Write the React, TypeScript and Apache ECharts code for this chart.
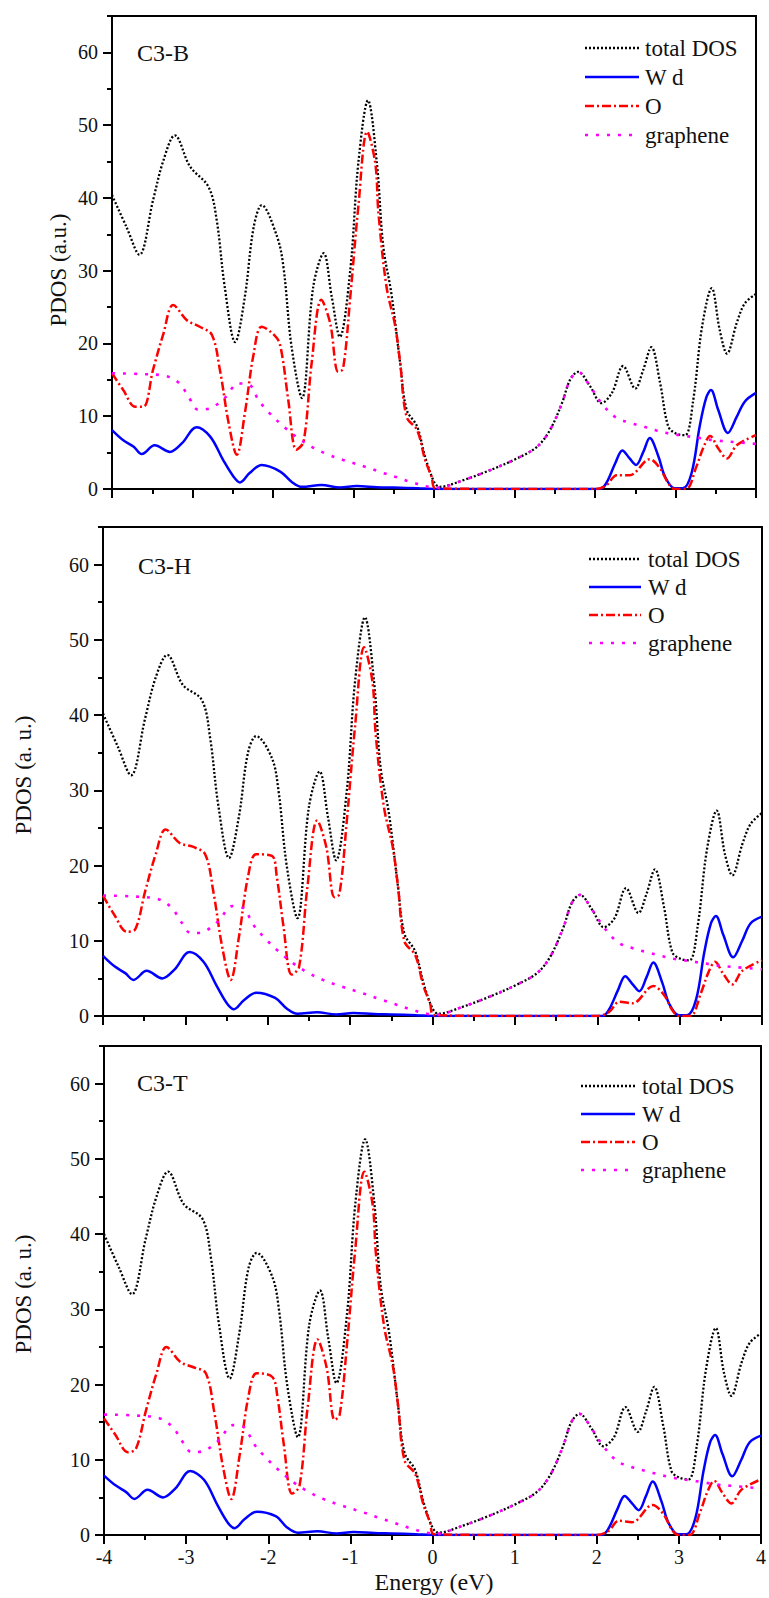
import React, { useEffect, useRef } from 'react';
import * as echarts from 'echarts';

// ---------- data ----------
const panelNames = ['C3-B', 'C3-H', 'C3-T'];
const yAxisNames = ['PDOS (a.u.)', 'PDOS (a. u.)', 'PDOS (a. u.)'];
const xAxisName = 'Energy (eV)';
const legendNames = ['total DOS', 'W d', 'O', 'graphene'];
const yMajorTicks = [0, 10, 20, 30, 40, 50, 60];
const yMinorTicks = [5, 15, 25, 35, 45, 55, 65];

// total DOS
const totalE = [-4, -3.82, -3.66, -3.49, -3.36, -3.22, -3.03, -2.8, -2.7, -2.6, -2.47, -2.35, -2.24, -2.14, -1.95, -1.87, -1.77, -1.64, -1.5, -1.37, -1.27, -1.17, -1.04, -0.94, -0.82, -0.71, -0.63, -0.53, -0.42, -0.34, -0.21, -0.11, 0, 0.07, 0.36, 0.7, 1.03, 1.28, 1.44, 1.59, 1.69, 1.79, 1.94, 2.08, 2.21, 2.35, 2.5, 2.6, 2.7, 2.81, 2.91, 3.01, 3.12, 3.22, 3.33, 3.45, 3.55, 3.64, 3.76, 3.86, 4];
const totalB = [40.4, 36.0, 32.2, 39.7, 45.2, 48.6, 44.3, 41.5, 37.0, 27.8, 20.2, 26.4, 36.0, 39.0, 34.7, 30.5, 19.6, 12.5, 27.8, 32.4, 26.4, 20.9, 30.1, 44.8, 53.4, 44.8, 33.3, 26.9, 17.3, 10.9, 8.6, 4.4, 1.0, 0.3, 1.2, 2.6, 4.2, 5.8, 8.1, 11.8, 15.0, 16.1, 14.1, 11.8, 13.2, 16.9, 13.8, 16.4, 19.5, 14.5, 8.6, 7.6, 7.4, 12.2, 22.3, 27.6, 21.8, 18.6, 22.8, 25.5, 26.8];
const totalH = [40.2, 35.8, 32.0, 39.5, 45.0, 48.0, 44.0, 42.0, 37.0, 28.0, 21.0, 26.5, 35.0, 37.2, 34.3, 30.0, 20.0, 13.0, 27.8, 32.5, 26.5, 20.7, 30.0, 44.5, 53.0, 44.5, 33.0, 27.0, 17.3, 10.9, 8.6, 4.4, 1.0, 0.3, 1.2, 2.6, 4.2, 5.8, 8.1, 11.8, 15.0, 16.1, 14.1, 11.8, 13.0, 17.0, 13.7, 16.3, 19.5, 14.5, 8.5, 7.6, 7.4, 12.0, 22.0, 27.3, 21.5, 18.7, 22.8, 25.5, 27.0];
const totalT = [40.0, 35.6, 32.0, 39.5, 45.0, 48.3, 44.0, 42.0, 37.0, 28.0, 20.8, 27.0, 35.5, 37.5, 34.3, 30.0, 20.0, 13.0, 28.0, 32.5, 26.2, 20.2, 29.5, 44.0, 52.6, 44.3, 33.0, 27.0, 17.3, 10.9, 8.6, 4.4, 1.0, 0.3, 1.2, 2.6, 4.2, 5.8, 8.1, 11.8, 15.0, 16.1, 14.1, 11.8, 13.0, 17.0, 13.7, 16.4, 19.7, 14.5, 8.5, 7.6, 7.4, 12.0, 22.0, 27.5, 21.5, 18.5, 22.8, 25.5, 26.8];

// W d
const wdE = [-4, -3.86, -3.73, -3.63, -3.47, -3.28, -3.13, -2.95, -2.78, -2.62, -2.49, -2.41, -2.29, -2.14, -1.91, -1.77, -1.64, -1.4, -1.17, -0.96, -0.71, -0.5, -0.2, 0, 1.0, 2.06, 2.14, 2.25, 2.34, 2.43, 2.51, 2.6, 2.68, 2.79, 2.87, 2.99, 3.09, 3.2, 3.3, 3.38, 3.44, 3.53, 3.65, 3.76, 3.86, 4];
const wdB = [8.1, 6.7, 5.8, 4.8, 6.0, 5.1, 6.3, 8.5, 7.2, 4.0, 1.7, 0.9, 2.2, 3.3, 2.4, 1.0, 0.3, 0.55, 0.2, 0.4, 0.25, 0.2, 0.1, 0.0, 0.0, 0.0, 0.8, 3.5, 5.3, 4.2, 3.3, 5.1, 7.0, 4.4, 1.7, 0.1, 0.1, 2.2, 8.6, 12.5, 13.6, 10.9, 7.7, 9.9, 12.0, 13.2];
const wdH = [8.0, 6.6, 5.7, 4.8, 6.0, 5.0, 6.2, 8.5, 7.2, 4.0, 1.6, 0.9, 2.1, 3.1, 2.4, 1.0, 0.3, 0.5, 0.2, 0.4, 0.25, 0.2, 0.1, 0.0, 0.0, 0.0, 0.8, 3.4, 5.3, 4.2, 3.3, 5.2, 7.1, 4.4, 1.7, 0.1, 0.1, 2.2, 8.5, 12.3, 13.3, 10.8, 7.8, 10.0, 12.3, 13.2];
const wdT = [7.9, 6.6, 5.7, 4.8, 6.0, 5.0, 6.2, 8.5, 7.3, 4.0, 1.6, 0.9, 2.1, 3.1, 2.5, 1.0, 0.3, 0.5, 0.2, 0.4, 0.25, 0.2, 0.1, 0.0, 0.0, 0.0, 0.8, 3.4, 5.2, 4.2, 3.3, 5.2, 7.1, 4.4, 1.7, 0.1, 0.1, 2.2, 8.5, 12.3, 13.3, 10.8, 7.8, 10.0, 12.3, 13.2];

// O
const oE = [-4, -3.86, -3.71, -3.61, -3.49, -3.36, -3.24, -3.07, -2.91, -2.76, -2.66, -2.55, -2.45, -2.35, -2.24, -2.14, -1.95, -1.89, -1.81, -1.71, -1.62, -1.52, -1.4, -1.29, -1.19, -1.13, -1.04, -0.94, -0.83, -0.73, -0.69, -0.59, -0.48, -0.42, -0.34, -0.21, -0.11, -0.03, 0.02, 1.0, 2.0, 2.14, 2.27, 2.43, 2.68, 2.81, 2.91, 2.99, 3.13, 3.26, 3.35, 3.43, 3.53, 3.64, 3.76, 4];
const oB = [15.9, 13.6, 11.3, 11.3, 16.4, 21.4, 25.3, 23.2, 22.3, 21.2, 16.4, 9.0, 4.7, 10.4, 18.6, 22.3, 20.7, 18.6, 12.2, 5.4, 6.5, 17.3, 26.0, 22.8, 16.1, 16.5, 26.4, 38.8, 49.1, 44.8, 37.9, 27.8, 22.3, 17.3, 9.9, 8.1, 4.0, 1.7, 0.1, 0.0, 0.0, 0.5, 1.9, 1.9, 4.1, 2.8, 0.8, 0.0, 0.0, 3.1, 5.8, 7.3, 5.6, 4.2, 6.0, 7.4];
const oH = [16.0, 13.4, 11.2, 11.5, 16.5, 21.5, 24.8, 23.0, 22.5, 21.5, 16.5, 9.0, 4.8, 10.5, 18.5, 21.5, 21.3, 18.5, 12.0, 5.5, 6.5, 17.0, 26.0, 22.5, 15.8, 16.2, 26.0, 38.5, 49.0, 44.5, 37.5, 27.8, 22.3, 17.3, 9.9, 8.1, 4.0, 1.7, 0.1, 0.0, 0.0, 0.5, 1.9, 1.7, 4.0, 2.8, 0.8, 0.0, 0.0, 3.1, 5.8, 7.2, 5.6, 4.2, 6.0, 7.4];
const oT = [15.5, 13.3, 11.0, 11.5, 16.5, 21.5, 25.0, 23.0, 22.3, 21.5, 16.5, 9.0, 4.8, 10.5, 18.5, 21.5, 21.0, 18.5, 12.0, 5.5, 6.5, 17.0, 26.0, 22.3, 15.3, 16.0, 25.5, 38.0, 48.3, 44.0, 37.5, 27.8, 22.3, 17.3, 9.9, 8.1, 4.0, 1.7, 0.1, 0.0, 0.0, 0.5, 1.9, 1.7, 4.0, 2.8, 0.8, 0.0, 0.0, 3.1, 5.8, 7.2, 5.6, 4.2, 6.0, 7.4];

// graphene
const grE = [-4, -3.65, -3.32, -3.16, -3.05, -2.93, -2.78, -2.6, -2.43, -2.29, -2.18, -2.04, -1.87, -1.69, -1.52, -1.33, -1.13, -0.84, -0.63, -0.46, -0.3, -0.07, 0.05, 0.36, 0.7, 1.03, 1.28, 1.44, 1.59, 1.69, 1.79, 1.94, 2.08, 2.25, 2.43, 2.6, 2.77, 2.93, 3.12, 3.3, 3.47, 3.68, 4];
const grB = [15.9, 15.8, 15.5, 14.5, 12.7, 10.9, 11.1, 12.5, 14.5, 14.3, 12.2, 10.4, 8.6, 7.0, 5.8, 4.8, 4.0, 3.0, 2.2, 1.6, 1.0, 0.3, 0.2, 1.2, 2.6, 4.2, 5.8, 8.1, 11.8, 15.0, 16.1, 14.1, 11.8, 9.9, 9.1, 8.6, 8.0, 7.6, 7.3, 7.0, 6.7, 6.5, 6.2];
const grH = [16.0, 15.9, 15.5, 14.3, 12.5, 11.0, 11.2, 12.6, 14.6, 14.3, 12.2, 10.4, 8.6, 7.0, 5.8, 4.8, 4.0, 3.0, 2.2, 1.6, 1.0, 0.3, 0.2, 1.2, 2.6, 4.2, 5.8, 8.1, 11.8, 15.0, 16.1, 14.1, 11.8, 9.8, 9.0, 8.5, 8.0, 7.6, 7.3, 7.0, 6.7, 6.5, 6.2];
const grT = [16.0, 15.9, 15.5, 14.3, 12.5, 11.0, 11.2, 12.6, 14.6, 14.3, 12.2, 10.4, 8.6, 7.0, 5.8, 4.8, 4.0, 3.0, 2.2, 1.6, 1.0, 0.3, 0.2, 1.2, 2.6, 4.2, 5.8, 8.1, 11.8, 15.0, 16.1, 14.1, 11.8, 9.8, 9.0, 8.5, 8.0, 7.6, 7.3, 7.0, 6.7, 6.5, 6.2];

const panelData = [
  { total: totalB, wd: wdB, o: oB, gr: grB },
  { total: totalH, wd: wdH, o: oH, gr: grH },
  { total: totalT, wd: wdT, o: oT, gr: grT },
];

// ---------- styles / layout ----------
const FONT = "'Liberation Serif', 'Times New Roman', serif";
const seriesStyles = [
  { color: '#000000', width: 2.3, type: [2, 2] as number[] },
  { color: '#0000ff', width: 2.5, type: 'solid' as any },
  { color: '#ff0000', width: 2.5, type: [9, 3, 2, 3] as number[] },
  { color: '#ff00ff', width: 2.6, type: [3, 8] as number[] },
];

const grids = [
  { left: 112, top: 16, width: 644, height: 473 },
  { left: 103, top: 527, width: 659, height: 489 },
  { left: 104, top: 1046, width: 659, height: 489 },
];
const titlePos = [
  { x: 137, y: 53 },
  { x: 138, y: 566 },
  { x: 137, y: 1083 },
];
const legendPos = [
  { x1: 585, x2: 639, tx: 645, y0: 48, dy: 29 },
  { x1: 589, x2: 641, tx: 648, y0: 559, dy: 28 },
  { x1: 581, x2: 635, tx: 642, y0: 1086, dy: 28 },
];
const yNamePos = [
  { x: 58, y: 270 },
  { x: 23, y: 775 },
  { x: 23, y: 1294 },
];

function pairs(xs: number[], ys: number[]) {
  return xs.map((x, i) => [x, ys[i]]);
}

export default function App() {
  const ref = useRef<HTMLDivElement>(null);
  useEffect(() => {
    if (!ref.current) return;
    const chart = echarts.init(ref.current, undefined, { renderer: 'svg' });

    const xAxes: any[] = [];
    const yAxes: any[] = [];
    const series: any[] = [];
    const graphic: any[] = [];

    grids.forEach((g, i) => {
      xAxes.push({
        type: 'value',
        gridIndex: i,
        min: -4,
        max: 4,
        interval: 1,
        axisLine: { show: true, onZero: false, lineStyle: { color: '#000', width: 2 } },
        axisTick: { show: true, inside: false, length: 9, lineStyle: { color: '#000', width: 2 } },
        minorTick: { show: true, splitNumber: 2, length: 5, lineStyle: { color: '#000', width: 2 } },
        splitLine: { show: false },
        axisLabel: {
          show: i === 2,
          fontFamily: FONT,
          fontSize: 20,
          color: '#111',
          margin: 12,
        },
      });
      // minor-tick y axis (sits under the main axis line)
      yAxes.push({
        type: 'value',
        gridIndex: i,
        show: true,
        position: 'left',
        offset: 0,
        min: 0,
        max: 65,
        interval: 10,
        axisLine: { show: true, onZero: false, lineStyle: { color: '#000', width: 2 } },
        axisTick: { show: true, inside: false, length: 5, customValues: yMinorTicks, lineStyle: { color: '#000', width: 2 } },
        axisLabel: { show: false },
        splitLine: { show: false },
      });
      // main y axis
      yAxes.push({
        type: 'value',
        gridIndex: i,
        show: true,
        position: 'left',
        offset: 0,
        min: 0,
        max: 65,
        interval: 10,
        axisLine: { show: true, onZero: false, lineStyle: { color: '#000', width: 2 } },
        axisTick: { show: true, inside: false, length: 9, customValues: yMajorTicks, lineStyle: { color: '#000', width: 2 } },
        axisLabel: {
          show: true,
          customValues: yMajorTicks,
          fontFamily: FONT,
          fontSize: 20,
          color: '#111',
          margin: 14,
        },
        splitLine: { show: false },
      });

      const d = panelData[i];
      const sets = [
        pairs(totalE, d.total),
        pairs(wdE, d.wd),
        pairs(oE, d.o),
        pairs(grE, d.gr),
      ];
      sets.forEach((data, k) => {
        const st = seriesStyles[k];
        series.push({
          type: 'line',
          name: legendNames[k] + ' ' + panelNames[i],
          xAxisIndex: i,
          yAxisIndex: i * 2 + 1,
          data,
          smooth: 0.35,
          symbol: 'none',
          showSymbol: false,
          clip: true,
          z: 2 + k,
          lineStyle: { color: st.color, width: st.width, type: st.type, cap: 'butt' },
        });
      });

      // panel title
      graphic.push({
        type: 'text',
        x: titlePos[i].x,
        y: titlePos[i].y,
        style: {
          text: panelNames[i],
          font: `24px ${FONT}`,
          fill: '#111',
          textAlign: 'left',
          textVerticalAlign: 'middle',
        },
      });
      // legend
      const lp = legendPos[i];
      legendNames.forEach((nm, k) => {
        const y = lp.y0 + k * lp.dy;
        const st = seriesStyles[k];
        graphic.push({
          type: 'line',
          shape: { x1: lp.x1, y1: y, x2: lp.x2, y2: y },
          style: {
            stroke: st.color,
            lineWidth: st.width,
            lineDash: Array.isArray(st.type) ? st.type : null,
          },
        });
        graphic.push({
          type: 'text',
          x: lp.tx,
          y: y,
          style: {
            text: nm,
            font: `23px ${FONT}`,
            fill: '#111',
            textAlign: 'left',
            textVerticalAlign: 'middle',
          },
        });
      });
      // y axis name
      graphic.push({
        type: 'text',
        x: yNamePos[i].x,
        y: yNamePos[i].y,
        rotation: Math.PI / 2,
        style: {
          text: yAxisNames[i],
          font: `23px ${FONT}`,
          fill: '#111',
          textAlign: 'center',
          textVerticalAlign: 'middle',
        },
      });
    });

    // x axis name
    graphic.push({
      type: 'text',
      x: 434,
      y: 1582,
      style: {
        text: xAxisName,
        font: `24px ${FONT}`,
        fill: '#111',
        textAlign: 'center',
        textVerticalAlign: 'middle',
      },
    });

    chart.setOption({
      animation: false,
      backgroundColor: '#ffffff',
      grid: grids.map((g) => ({
        left: g.left,
        top: g.top,
        width: g.width,
        height: g.height,
        show: true,
        borderColor: '#000',
        borderWidth: 2,
        backgroundColor: 'transparent',
        containLabel: false,
      })),
      xAxis: xAxes,
      yAxis: yAxes,
      series,
      graphic,
    });

    return () => chart.dispose();
  }, []);

  return (
    <div
      ref={ref}
      style={{ position: 'absolute', left: 0, top: 0, width: 769, height: 1598, background: '#fff' }}
    />
  );
}
